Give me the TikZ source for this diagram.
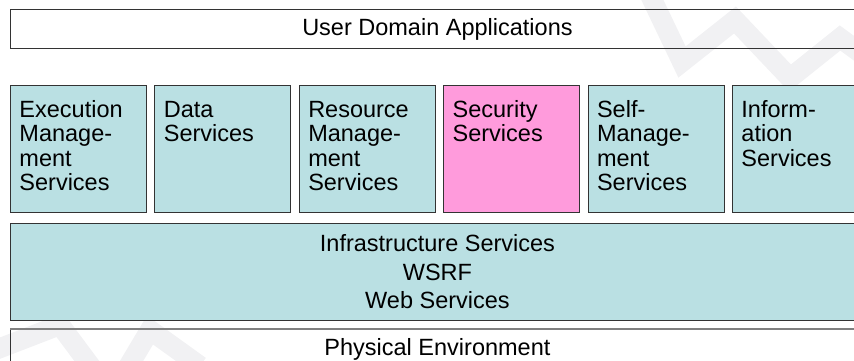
\documentclass[tikz,border=0pt]{standalone}
\usepackage{fontspec}
\setmainfont{Liberation Sans}
\usetikzlibrary{positioning}

\definecolor{svcteal}{RGB}{186,224,227}
\definecolor{secpink}{RGB}{255,155,220}
\definecolor{wmark}{RGB}{241,241,243}

\begin{document}
\begin{tikzpicture}[
    x=1pt, y=-1pt,
    font=\fontsize{23.5}{24.5}\selectfont,
    layer/.style={draw=black!80, line width=0.9pt, minimum width=854pt,
                  inner sep=0pt, text centered},
    svcbox/.style={draw=black!80, line width=0.9pt, fill=svcteal,
                   minimum width=136pt, minimum height=127pt,
                   inner xsep=9pt, inner ysep=15pt, text width=118pt, align=left,
                   text height=16.8pt, text depth=80.2pt},
    secbox/.style={svcbox, fill=secpink},
    wm/.style={draw=wmark, line width=20pt, line join=miter},
  ]
  \useasboundingbox (0,0) rectangle (854,361);
  %% faint logo marks in the corners
  \draw[wm] (650,-5) -- (682,62) -- (735,20) -- (790,78) -- (840,38) -- (870,60);
  \draw[wm] (-10,352) -- (60,325) -- (95,372);
  \draw[wm] (125,372) -- (150,330) -- (200,366);
  %% service row (left to right)
  \node[svcbox, anchor=north west] (exec) at (10,85) {Execution\\ Manage-\\ ment\\ Services};
  \node[svcbox, right=7.5pt of exec] (data) {Data\\ Services};
  \node[svcbox, right=7.5pt of data] (res) {Resource\\ Manage-\\ ment\\ Services};
  \node[secbox, right=7.5pt of res] (sec) {Security\\ Services};
  \node[svcbox, right=7.5pt of sec] (self) {Self-\\ Manage-\\ ment\\ Services};
  \node[svcbox, right=7.5pt of self] (info) {Inform-\\ ation\\ Services};
  %% layers above and below
  \node[layer, minimum height=39pt, above=36pt of exec.north west, anchor=south west] (user)
    {User Domain Applications};
  \node[layer, fill=svcteal, minimum height=97pt, align=center,
        font=\fontsize{23.5}{28.5}\selectfont,
        below=10pt of exec.south west, anchor=north west] (infra)
    {Infrastructure Services\\ WSRF\\ Web Services};
  \node[layer, minimum height=40pt, below=8pt of infra.south west, anchor=north west] (phys)
    {Physical Environment};
  \draw[gray, line width=1.6pt] (phys.north west) -- (phys.north east);
\end{tikzpicture}
\end{document}
